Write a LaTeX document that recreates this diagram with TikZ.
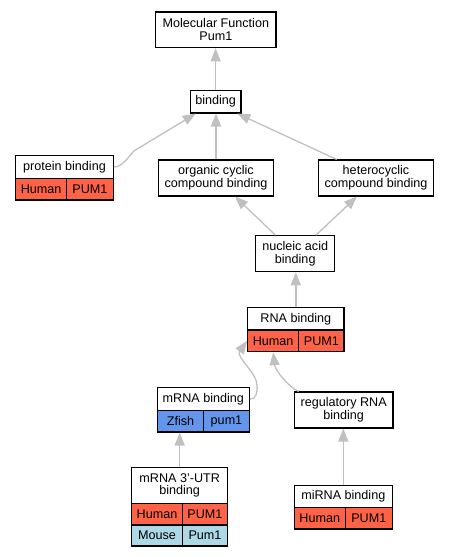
\documentclass[tikz,border=0pt]{standalone}
\usepackage{fontspec}
\setmainfont{Liberation Sans}
\usetikzlibrary{arrows.meta,calc}
\definecolor{hum}{RGB}{255,99,71}
\definecolor{zf}{RGB}{100,149,237}
\definecolor{mo}{RGB}{173,216,230}
\definecolor{edgec}{RGB}{192,192,192}
\tikzset{
  box/.style={draw=black, line width=1.1pt, fill=white, inner sep=0pt, align=center,
    font=\fontsize{12.6}{12.8}\selectfont},
  hcell/.style={box, fill=hum},
  zcell/.style={box, fill=zf},
  mcell/.style={box, fill=mo},
  edge/.style={draw=edgec, line width=1.3pt, -{Triangle[length=13pt,width=10pt]}},
}
\begin{document}
\begin{tikzpicture}[x=1pt,y=-1pt]
\useasboundingbox (0,0) rectangle (449,557);
% nodes
\node[box, minimum width=120.3pt, minimum height=35.7pt] (MF) at (215.85,29.85) {Molecular Function\\Pum1};
\node[box, minimum width=50.7pt, minimum height=22.7pt] (bind) at (215.65,101.65) {binding};
\node[box, minimum width=97.6pt, minimum height=22.6pt] (prot) at (64.5,167) {protein binding};
\node[hcell, minimum width=51pt, minimum height=21.7pt] (protH) at (41.2,189.15) {Human};
\node[hcell, minimum width=46.6pt, minimum height=21.7pt] (protP) at (90,189.15) {PUM1};
\node[box, minimum width=114.6pt, minimum height=36pt] (org) at (216,178) {organic cyclic\\compound binding};
\node[box, minimum width=114.6pt, minimum height=36pt] (het) at (376,178) {heterocyclic\\compound binding};
\node[box, minimum width=79pt, minimum height=36pt] (nuc) at (295.2,253.7) {nucleic acid\\binding};
\node[box, minimum width=96.3pt, minimum height=22.3pt] (rna) at (295.85,318.85) {RNA binding};
\node[hcell, minimum width=51pt, minimum height=21.7pt] (rnaH) at (273.2,340.85) {Human};
\node[hcell, minimum width=45.3pt, minimum height=21.7pt] (rnaP) at (321.35,340.85) {PUM1};
\node[box, minimum width=92pt, minimum height=23pt] (mrna) at (203.3,399.2) {mRNA binding};
\node[zcell, minimum width=46.4pt, minimum height=21.3pt] (mrnaZ) at (180.5,421.35) {Zfish};
\node[zcell, minimum width=45.6pt, minimum height=21.3pt] (mrnaP) at (226.5,421.35) {pum1};
\node[box, minimum width=98.7pt, minimum height=36pt] (reg) at (343.65,410) {regulatory RNA\\binding};
\node[box, minimum width=96pt, minimum height=35.6pt] (utr) at (179.7,485.5) {mRNA 3'-UTR\\binding};
\node[hcell, minimum width=50.6pt, minimum height=21.7pt] (utrH) at (157,514.15) {Human};
\node[hcell, minimum width=45.4pt, minimum height=21.7pt] (utrP) at (205,514.15) {PUM1};
\node[mcell, minimum width=50.6pt, minimum height=21pt] (utrM) at (157,535.5) {Mouse};
\node[mcell, minimum width=45.4pt, minimum height=21pt] (utrQ) at (205,535.5) {Pum1};
\node[box, minimum width=98pt, minimum height=22.4pt] (mir) at (343.3,496.5) {miRNA binding};
\node[hcell, minimum width=51pt, minimum height=21.3pt] (mirH) at (319.8,518.35) {Human};
\node[hcell, minimum width=47pt, minimum height=21.3pt] (mirP) at (368.8,518.35) {PUM1};
% edges
\draw[edge] (bind.north) -- (bind.north |- MF.south);
\draw[edge] (org.north) -- (org.north |- bind.south);
\draw[edge] ($(het.north)+(-39.3,0)$) -- ($(bind.south east)+(-4.3,0)$);
\draw[edge] ($(nuc.north west)+(20.3,0)$) -- ($(org.south)+(19,0)$);
\draw[edge] ($(nuc.north east)+(-19.4,0)$) -- ($(het.south)+(-19,0)$);
\draw[edge] (rna.north) -- (rna.north |- nuc.south);
\draw[edge] (prot.east) .. controls +(8,0) and +(-6,7) .. ++(20,-16) -- ($(bind.south west)+(6,0)$);
\draw[edge] (mrna.east) .. controls +(6,0) and +(0.5,8) .. ++(7.2,-14) .. controls +(-0.5,-13) and +(-11.7,16.3) .. (rnaH.west);
\draw[edge] ($(reg.north west)+(5,0)$) .. controls +(-10,-4) and +(2,18) .. (rnaH.south);
\draw[edge] (utr.north) -- (utr.north |- mrnaZ.south);
\draw[edge] (mir.north) -- (mir.north |- reg.south);
\end{tikzpicture}
\end{document}
